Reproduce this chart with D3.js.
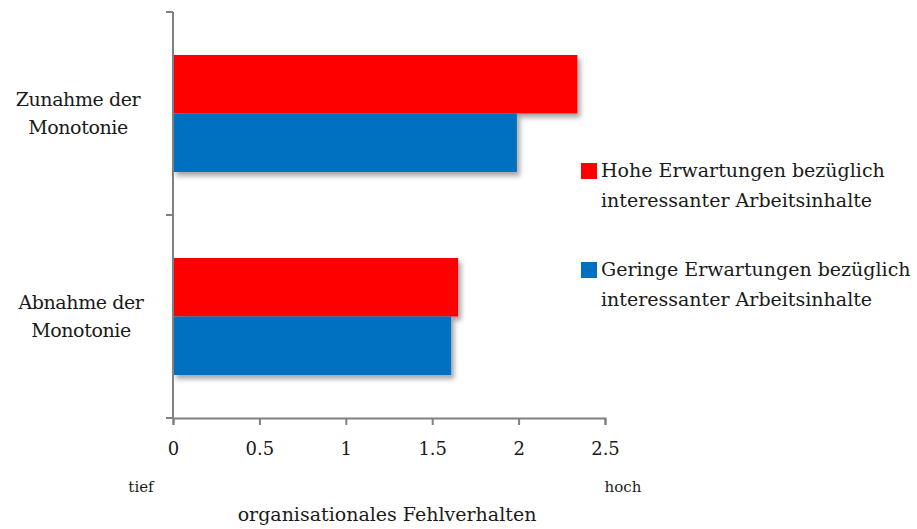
<!DOCTYPE html>
<html>
<head>
<meta charset="utf-8">
<script src="https://cdn.jsdelivr.net/npm/d3@7"></script>
<style>
  body { margin: 0; background: #fff; }
  text { font-family: "DejaVu Serif", "Liberation Serif", serif; fill: #1a1a1a; }
</style>
</head>
<body>
<div id="chart"></div>
<script>
// data
var categories = ["Zunahme der Monotonie", "Abnahme der Monotonie"];
var categoryLines = [["Zunahme der", "Monotonie"], ["Abnahme der", "Monotonie"]];
var seriesNames = ["Hohe Erwartungen bezüglich interessanter Arbeitsinhalte",
                   "Geringe Erwartungen bezüglich interessanter Arbeitsinhalte"];
var legendLines = [["Hohe Erwartungen bezüglich", "interessanter Arbeitsinhalte"],
                   ["Geringe Erwartungen bezüglich", "interessanter Arbeitsinhalte"]];
var hoheValues = [2.34, 1.65];
var geringeValues = [1.99, 1.61];
var xTicks = [0, 0.5, 1, 1.5, 2, 2.5];
var colors = ["#ff0000", "#0070c0"];

var width = 917, height = 529;
var axisColor = "#808080";

var svg = d3.select("#chart").append("svg")
    .attr("width", width)
    .attr("height", height);

// drop shadow like the office chart
var defs = svg.append("defs");
var f = defs.append("filter").attr("id", "shadow")
    .attr("x", "-10%").attr("y", "-10%").attr("width", "130%").attr("height", "130%");
f.append("feDropShadow")
    .attr("dx", 3).attr("dy", 4).attr("stdDeviation", 2.5)
    .attr("flood-color", "#000").attr("flood-opacity", 0.35);

var x = d3.scaleLinear().domain([0, 2.5]).range([173, 605]);
var y = d3.scaleBand().domain(categories).range([12, 418]);
var sub = d3.scaleBand().domain(seriesNames).range([0, y.bandwidth()])
    .paddingInner(0).paddingOuter(0.735);

// bars
var groups = svg.selectAll("g.cat")
    .data(categories).enter()
    .append("g")
    .attr("class", "cat")
    .attr("transform", d => `translate(0, ${y(d)})`)
    .attr("filter", "url(#shadow)");

groups.selectAll("rect")
    .data((d, i) => [
        {s: seriesNames[0], v: hoheValues[i], c: colors[0]},
        {s: seriesNames[1], v: geringeValues[i], c: colors[1]}
    ])
    .enter().append("rect")
    .attr("x", x(0))
    .attr("y", d => sub(d.s))
    .attr("width", d => x(d.v) - x(0))
    .attr("height", sub.bandwidth())
    .attr("fill", d => d.c);

// y axis with ticks on band boundaries
var bounds = categories.map(d => y(d)).concat([y.range()[1]]);
svg.append("line")
    .attr("x1", x(0)).attr("x2", x(0))
    .attr("y1", bounds[0]).attr("y2", bounds[bounds.length - 1])
    .attr("stroke", axisColor).attr("stroke-width", 2);
svg.selectAll("line.ytick")
    .data(bounds).enter()
    .append("line")
    .attr("class", "ytick")
    .attr("x1", x(0) - 7).attr("x2", x(0))
    .attr("y1", d => d).attr("y2", d => d)
    .attr("stroke", axisColor).attr("stroke-width", 2);

// x axis
var xAxis = svg.append("g")
    .attr("transform", `translate(0, ${y.range()[1]})`)
    .call(d3.axisBottom(x).tickValues(xTicks).tickFormat(d3.format("")).tickSize(7).tickPadding(17));
xAxis.select(".domain").attr("stroke", axisColor).attr("stroke-width", 2);
xAxis.selectAll(".tick line").attr("stroke", axisColor).attr("stroke-width", 2);
xAxis.selectAll(".tick text")
    .attr("font-family", "DejaVu Serif, serif")
    .attr("font-size", 18)
    .attr("fill", "#1a1a1a");

// category labels
categoryLines.forEach(function(lines, i) {
    var cy = y(categories[i]) + y.bandwidth() / 2;
    svg.append("text")
        .attr("y", cy - 8)
        .attr("text-anchor", "middle")
        .attr("font-size", 19)
        .attr("letter-spacing", -0.4)
        .selectAll("tspan")
        .data(lines).enter()
        .append("tspan")
        .attr("x", i == 0 ? 78 : 81)
        .attr("dy", (d, j) => j == 0 ? 0 : 28)
        .text(d => d);
});

// tief / hoch / axis title
svg.append("text").attr("x", 141).attr("y", 492)
    .attr("text-anchor", "middle").attr("font-size", 15).text("tief");
svg.append("text").attr("x", 623).attr("y", 492)
    .attr("text-anchor", "middle").attr("font-size", 15).text("hoch");
svg.append("text").attr("x", 387).attr("y", 521)
    .attr("text-anchor", "middle").attr("font-size", 19).text("organisationales Fehlverhalten");

// legend
var legendTop = [163, 262];
legendLines.forEach(function(lines, i) {
    svg.append("rect")
        .attr("x", 581).attr("y", legendTop[i])
        .attr("width", 16).attr("height", 16)
        .attr("fill", colors[i]);
    svg.append("text")
        .attr("font-size", 19)
        .selectAll("tspan")
        .data(lines).enter()
        .append("tspan")
        .attr("x", 601)
        .attr("y", (d, j) => legendTop[i] + 14 + j * 30)
        .text(d => d);
});
</script>
</body>
</html>
